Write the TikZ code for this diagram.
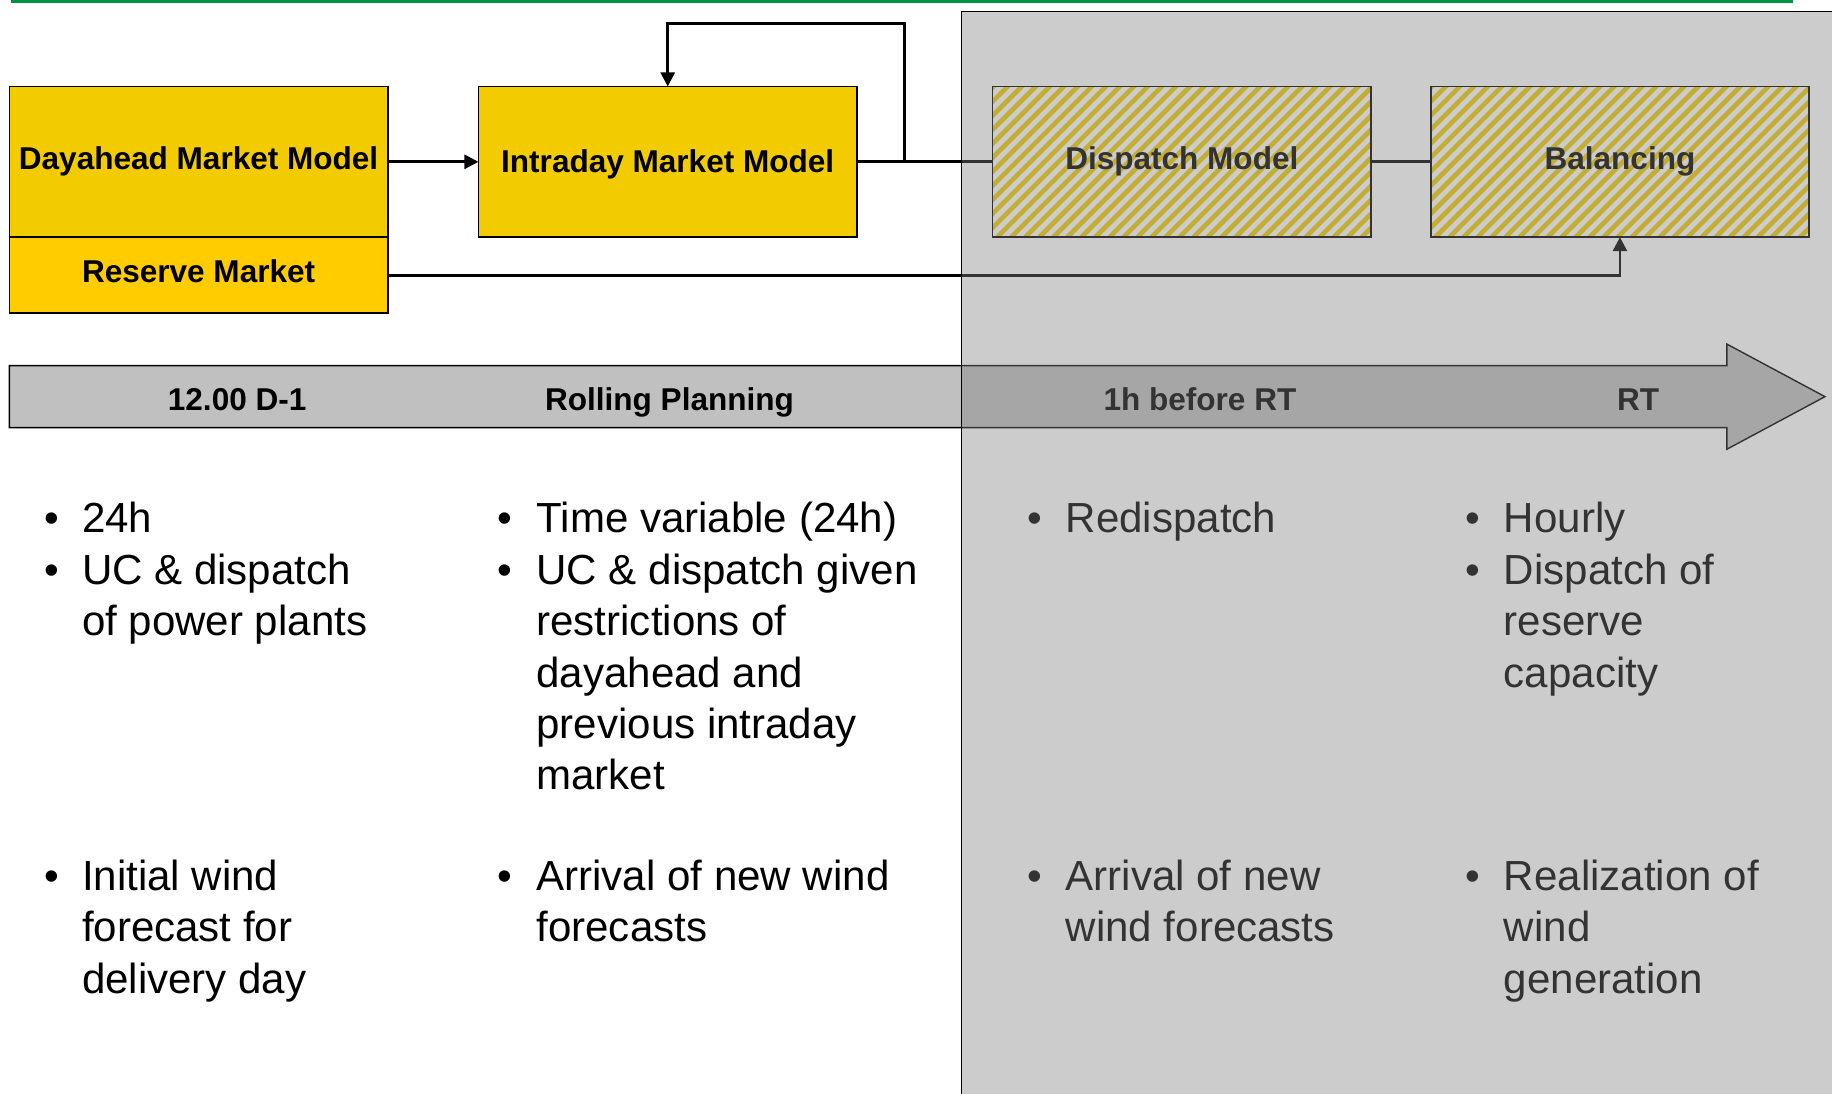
\documentclass[tikz,border=0pt]{standalone}
\usepackage{fontspec}
\setmainfont{Liberation Sans}
\usetikzlibrary{arrows.meta}

\definecolor{topgreen}{RGB}{0,146,69}
\definecolor{boxyellow}{RGB}{242,204,0}
\definecolor{reserveyellow}{RGB}{255,204,0}
\definecolor{barfill}{RGB}{192,192,192}
\definecolor{overlaygray}{RGB}{128,128,128}

\tikzset{
  modelbox/.style={draw=black, line width=1.4pt, minimum width=324pt,
    minimum height=129pt, inner sep=0pt, outer sep=0pt,
    font=\bfseries\fontsize{27}{32}\selectfont, text height=14pt, text depth=0pt},
  yellowbox/.style={modelbox, fill=boxyellow},
  hatchbase/.style={modelbox, fill=white},
  hatchframe/.style={draw=black, line width=1.4pt},
  boxlabel/.style={inner sep=0pt, font=\bfseries\fontsize{27}{32}\selectfont,
    text height=14pt, text depth=0pt},
  stripe/.style={draw=boxyellow, line width=4pt},
  conn/.style={draw=black, line width=2.4pt},
  arrowed/.style={-{Triangle[length=12pt,width=12pt]}},
  barlabel/.style={anchor=base, font=\bfseries\fontsize{27}{32}\selectfont, inner sep=0pt},
  bullettext/.style={anchor=base west, inner sep=0pt, font=\fontsize{36}{44}\selectfont},
  bulletdot/.style={anchor=base, inner sep=0pt, font=\fontsize{36}{44}\selectfont},
}

\newcommand\btext[1]{\parbox[t]{420pt}{\raggedright #1}}

% diagonal yellow stripes inside a named box
\newcommand\stripefill[1]{%
  \begin{scope}
    \clip (#1.south west) rectangle (#1.north east);
    \foreach \k in {-140,-128,...,340}
      \draw[stripe] ([xshift=\k pt]#1.south west) -- ++(150pt,150pt);
  \end{scope}}

\begin{document}
\begin{tikzpicture}[x=1pt, y=-1pt]
  \useasboundingbox (0,0) rectangle (1568,936);

  % green rule along the top
  \coordinate (gA) at (9,1.2);
  \coordinate (gB) at (1535,1.2);
  \draw[topgreen, line width=2.5pt] (gA) -- (gB);

  % market and operation models
  \node[yellowbox] (day) at (170,138.5) {Dayahead Market Model};
  \node[modelbox, fill=reserveyellow, minimum height=65pt, text height=13pt] (res) at (170,235.5) {Reserve Market};
  \node[yellowbox, text height=19pt] (intra) at (571.5,138.5) {Intraday Market Model};

  \node[hatchbase] (disp) at (1011.5,138.5) {};
  \stripefill{disp}
  \draw[hatchframe] (disp.south west) rectangle (disp.north east);
  \node[boxlabel] (dispL) at (disp.center) {Dispatch Model};

  \node[hatchbase] (bal) at (1386.5,138.5) {};
  \stripefill{bal}
  \draw[hatchframe] (bal.south west) rectangle (bal.north east);
  \node[boxlabel] (balL) at (bal.center) {Balancing};

  % connectors
  \coordinate (loopTop) at (774,20);
  \draw[conn, arrowed] (day.east) -- (intra.west);
  \draw[conn, arrowed] (intra.east) -| (loopTop) -| (intra.north);
  \draw[conn] (intra.east) -- (disp.west);
  \draw[conn] (disp.east) -- (bal.west);
  \draw[conn, arrowed] (res.east) -| (bal.south);

  % time line arrow
  \draw[fill=barfill, draw=black, line width=1.2pt, line join=miter]
    (8,313) -- (1478,313) -- (1478,294.5) -- (1562,339.5) -- (1478,384.5)
    -- (1478,366) -- (8,366) -- cycle;
  \node[barlabel] (t1) at (203,351) {12.00 D-1};
  \node[barlabel] (t2) at (573,351) {Rolling Planning};
  \node[barlabel] (t3) at (1027,351) {1h before RT};
  \node[barlabel] (t4) at (1402,351) {RT};

  % column 1
  \node[bulletdot] (c1d1) at (44,456) {•};
  \node[bullettext] (c1i1) at (70,456) {\btext{24h}};
  \node[bulletdot] (c1d2) at (44,500) {•};
  \node[bullettext] (c1i2) at (70,500) {\btext{UC \& dispatch\\of power plants}};
  \node[bulletdot] (c1d3) at (44,762) {•};
  \node[bullettext] (c1i3) at (70,762) {\btext{Initial wind\\forecast for\\delivery day}};

  % column 2
  \node[bulletdot] (c2d1) at (432,456) {•};
  \node[bullettext] (c2i1) at (459,456) {\btext{Time variable (24h)}};
  \node[bulletdot] (c2d2) at (432,500) {•};
  \node[bullettext] (c2i2) at (459,500) {\btext{UC \& dispatch given\\restrictions of\\dayahead and\\previous intraday\\market}};
  \node[bulletdot] (c2d3) at (432,762) {•};
  \node[bullettext] (c2i3) at (459,762) {\btext{Arrival of new wind\\forecasts}};

  % column 3
  \node[bulletdot] (c3d1) at (886,456) {•};
  \node[bullettext] (c3i1) at (912,456) {\btext{Redispatch}};
  \node[bulletdot] (c3d2) at (886,762) {•};
  \node[bullettext] (c3i2) at (912,762) {\btext{Arrival of new\\wind forecasts}};

  % column 4
  \node[bulletdot] (c4d1) at (1261,456) {•};
  \node[bullettext] (c4i1) at (1287,456) {\btext{Hourly}};
  \node[bulletdot] (c4d2) at (1261,500) {•};
  \node[bullettext] (c4i2) at (1287,500) {\btext{Dispatch of\\reserve\\capacity}};
  \node[bulletdot] (c4d3) at (1261,762) {•};
  \node[bullettext] (c4i3) at (1287,762) {\btext{Realization of\\wind\\generation}};

  % shaded real-time region
  \coordinate (ovBL) at (823,936);
  \coordinate (ovTL) at (823,10);
  \coordinate (ovTR) at (1568,10);
  \fill[overlaygray, fill opacity=0.4] (ovTL) rectangle (1568,936);
  \draw[black, line width=1.4pt] (ovBL) -- (ovTL) -- (ovTR);
\end{tikzpicture}
\end{document}
